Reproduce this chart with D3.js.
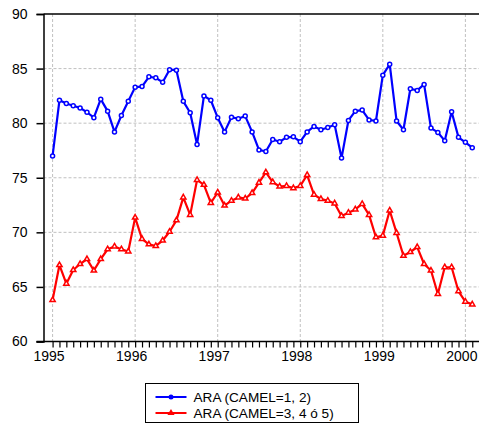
<!DOCTYPE html>
<html>
<head>
<meta charset="utf-8">
<title>ARA</title>
<script src="https://cdn.jsdelivr.net/npm/d3@7"></script>
<style>
  body { margin:0; padding:0; background:#fff; }
  svg { display:block; font-family:"Liberation Sans", Arial, sans-serif; }
</style>
</head>
<body>
<svg id="chart" width="479" height="425"></svg>
<script>
// monthly, Jan 1995 .. Feb 2000
var startYear = 1995;
var blueVals = [77.0, 82.1, 81.8, 81.6, 81.4, 81.0, 80.5, 82.2, 81.1, 79.2, 80.7, 82.0,
                83.3, 83.35, 84.25, 84.15, 83.75, 84.9, 84.85, 82.0, 80.95, 78.05, 82.5, 82.1,
                80.5, 79.2, 80.55, 80.4, 80.65, 79.2, 77.55, 77.4, 78.5, 78.3, 78.7, 78.75,
                78.3, 79.2, 79.7, 79.4, 79.6, 79.85, 76.8, 80.25, 81.1, 81.2, 80.3, 80.2,
                84.4, 85.4, 80.2, 79.4, 83.15, 83.0, 83.55, 79.55, 79.15, 78.4, 81.05, 78.7,
                78.25, 77.75];
var redVals = [63.8, 67.0, 65.3, 66.55, 67.1, 67.55, 66.5, 67.55, 68.45, 68.7, 68.45, 68.25,
               71.35, 69.4, 68.9, 68.75, 69.25, 70.05, 71.1, 73.2, 71.6, 74.8, 74.35, 72.7,
               73.65, 72.45, 72.9, 73.2, 73.1, 73.6, 74.55, 75.5, 74.6, 74.2, 74.25, 74.05,
               74.25, 75.25, 73.45, 73.05, 72.9, 72.65, 71.5, 71.8, 72.1, 72.6, 71.6, 69.55,
               69.7, 72.0, 69.95, 67.85, 68.2, 68.65, 67.1, 66.5, 64.35, 66.8, 66.8, 64.6,
               63.65, 63.4];
var yTicks = [60, 65, 70, 75, 80, 85, 90];
var xTicks = [1995, 1996, 1997, 1998, 1999, 2000];
var seriesNames = ["ARA (CAMEL=1, 2)", "ARA (CAMEL=3, 4 ó 5)"];
var seriesColors = ["#0000ff", "#ff0000"];

var svg = d3.select("#chart");
var pLeft = 43.5, pRight = 479, pTop = 14, pBottom = 341.5;

var x = d3.scaleLinear().domain([1994.89, 2000.165]).range([pLeft, pRight]);
var y = d3.scaleLinear().domain([60, 90]).range([pBottom, pTop]);

function t(i) { return startYear + i / 12; }

// grid
svg.append("g").selectAll("line.vg").data(xTicks).enter().append("line")
  .attr("x1", function(d){return x(d)}).attr("x2", function(d){return x(d)})
  .attr("y1", pTop).attr("y2", pBottom)
  .attr("stroke", "#c0c0c0").attr("stroke-dasharray", "3,2").attr("stroke-width", 1);
svg.append("g").selectAll("line.hg").data(yTicks.filter(function(d){return d>60 && d<90})).enter().append("line")
  .attr("x1", pLeft).attr("x2", pRight)
  .attr("y1", function(d){return y(d)}).attr("y2", function(d){return y(d)})
  .attr("stroke", "#c0c0c0").attr("stroke-dasharray", "3,2").attr("stroke-width", 1);

// top frame line
svg.append("line").attr("x1", pLeft).attr("x2", pRight).attr("y1", pTop).attr("y2", pTop)
  .attr("stroke", "#000").attr("stroke-width", 1.5);

// y axis
var yAxis = d3.axisLeft(y).tickValues(yTicks).tickSize(7).tickPadding(9);
var gy = svg.append("g").attr("transform", "translate(" + pLeft + ",0)").call(yAxis);
gy.select(".domain").attr("stroke-width", 1.5);
gy.selectAll("line").attr("stroke-width", 1.5);
gy.selectAll("text").attr("font-size", 14).attr("fill", "#000")
  .attr("font-family", "Liberation Sans, Arial, sans-serif");

// x axis with monthly minor ticks
var months = d3.range(0, 65).map(function(i){return t(i)}).filter(function(d){return d <= 2000.165});
var xAxis = d3.axisBottom(x).tickValues(months).tickSize(6)
  .tickFormat(function(d){ var r = Math.round(d); return Math.abs(d - r) < 1e-6 ? String(r) : ""; })
  .tickSizeOuter(0).tickPadding(4);
var gx = svg.append("g").attr("transform", "translate(0," + pBottom + ")").call(xAxis);
gx.select(".domain").attr("stroke-width", 1.5).attr("d", "M" + (pLeft - 7) + ",0H" + pRight);
gx.selectAll("line").attr("stroke-width", 1.2);
gx.selectAll("text").attr("font-size", 14).attr("fill", "#000").attr("dx", -4)
  .attr("font-family", "Liberation Sans, Arial, sans-serif");

// series
var series = [blueVals, redVals];
var line = d3.line().x(function(d, i){return x(t(i))}).y(function(d){return y(d)});
var triangle = d3.symbol().type(d3.symbolTriangle).size(12);

series.forEach(function(vals, s) {
  var g = svg.append("g");
  g.append("path").datum(vals).attr("d", line)
    .attr("fill", "none").attr("stroke", seriesColors[s]).attr("stroke-width", 2.2)
    .attr("stroke-linejoin", "round");
  if (s === 0) {
    g.selectAll("circle").data(vals).enter().append("circle")
      .attr("cx", function(d, i){return x(t(i))}).attr("cy", function(d){return y(d)})
      .attr("r", 2).attr("fill", "#fff").attr("stroke", seriesColors[s]).attr("stroke-width", 1.5);
  } else {
    g.selectAll("path.m").data(vals).enter().append("path").attr("class", "m")
      .attr("d", triangle)
      .attr("transform", function(d, i){return "translate(" + x(t(i)) + "," + y(d) + ")"})
      .attr("fill", "#fff").attr("stroke", seriesColors[s]).attr("stroke-width", 1.5);
  }
});

// legend
var lg = svg.append("g").attr("transform", "translate(145.5,383.5)");
lg.append("rect").attr("width", 213).attr("height", 39)
  .attr("fill", "#fff").attr("stroke", "#000").attr("stroke-width", 1);
seriesNames.forEach(function(name, s) {
  var ly = 13.5 + s * 16;
  lg.append("line").attr("x1", 10).attr("x2", 41).attr("y1", ly).attr("y2", ly)
    .attr("stroke", seriesColors[s]).attr("stroke-width", 2);
  if (s === 0) {
    lg.append("circle").attr("cx", 25.5).attr("cy", ly).attr("r", 2.5).attr("fill", seriesColors[s]);
  } else {
    lg.append("path").attr("d", d3.symbol().type(d3.symbolTriangle).size(22))
      .attr("transform", "translate(25.5," + ly + ")").attr("fill", seriesColors[s]);
  }
  lg.append("text").attr("x", 48).attr("y", ly + 5).attr("font-size", 13.6).attr("fill", "#000")
    .text(name);
});
</script>
</body>
</html>
